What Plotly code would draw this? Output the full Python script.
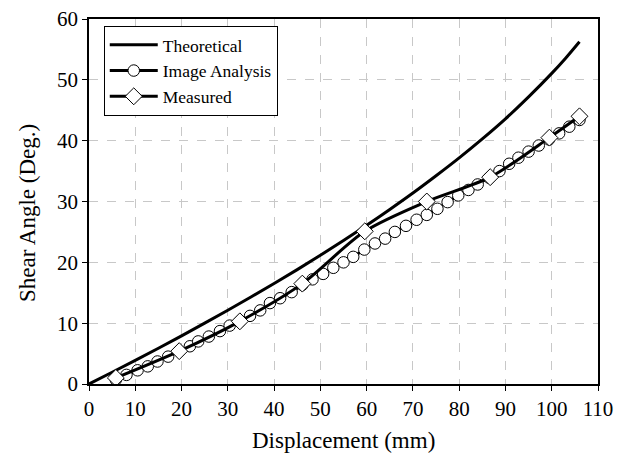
import plotly.graph_objects as go

# Theoretical curve
theo_x = [0, 5, 10, 15, 20, 25, 30, 35, 40, 45, 50, 55, 60, 65, 70, 75, 80, 85, 90, 95, 100, 103, 106]
theo_y = [0, 1.93, 3.89, 5.88, 7.92, 10.0, 12.12, 14.3, 16.52, 18.8, 21.16, 23.6, 26.1, 28.7,
          31.4, 34.24, 37.18, 40.3, 43.6, 47.2, 51.06, 53.56, 56.26]

# Image analysis points
img_x = [5.8, 8.1, 10.5, 12.7, 14.8, 17.1, 19.5, 21.8, 23.6, 25.9, 28.3, 30.4, 32.6, 34.8, 37.0,
         39.1, 41.3, 43.8, 46.1, 48.3, 50.6, 52.8, 55.0, 57.1, 59.5, 61.8, 64.0, 66.1, 68.5, 70.8,
         73.0, 75.3, 77.5, 79.8, 82.0, 84.0, 86.5, 88.7, 90.8, 92.8, 95.0, 97.2, 99.4, 101.6,
         103.8, 106.0]
img_y = [0.7, 1.5, 2.25, 2.9, 3.7, 4.5, 5.4, 6.2, 7.0, 7.8, 8.7, 9.6, 10.3, 11.2, 12.1,
         13.3, 14.1, 15.1, 16.3, 17.2, 18.1, 19.1, 20.0, 20.9, 22.1, 23.1, 23.9, 25.0, 26.0, 27.0,
         27.8, 28.8, 29.9, 31.0, 31.9, 32.8, 33.9, 35.0, 36.2, 37.2, 38.2, 39.2, 40.2, 41.2,
         42.3, 43.4]

# Measured points
meas_x = [5.8, 19.5, 32.6, 46.1, 59.6, 73.0, 86.7, 99.5, 106.0]
meas_y = [1.0, 5.4, 10.3, 16.5, 25.1, 30.0, 34.0, 40.5, 44.0]

x_title = "Displacement (mm)"
y_title = "Shear Angle (Deg.)"

fig = go.Figure()
fig.add_trace(go.Scatter(x=theo_x, y=theo_y, mode="lines", name="Theoretical",
                         line=dict(color="black", width=3, shape="spline")))
fig.add_trace(go.Scatter(x=img_x, y=img_y, mode="lines+markers", name="Image Analysis",
                         line=dict(color="black", width=3),
                         marker=dict(symbol="circle", size=11.5, color="white",
                                     line=dict(color="black", width=1))))
fig.add_trace(go.Scatter(x=meas_x, y=meas_y, mode="lines+markers", name="Measured",
                         line=dict(color="black", width=3, shape="spline", smoothing=0.8),
                         marker=dict(symbol="diamond", size=13, color="white",
                                     line=dict(color="black", width=1))))

font_family = "Liberation Serif, Times New Roman, serif"
axis_common = dict(showline=True, linecolor="black", linewidth=1.5, mirror=True,
                   ticks="outside", ticklen=5, tickcolor="black", automargin=False,
                   ticklabeloverflow="allow",
                   showgrid=True, gridcolor="#c8c8c8", griddash="dash", gridwidth=1,
                   zeroline=False, tickfont=dict(family=font_family, size=21, color="black"))

fig.update_layout(
    width=624, height=466,
    margin=dict(l=81, r=34, t=11, b=90),
    paper_bgcolor="white", plot_bgcolor="white",
    font=dict(family=font_family, color="black"),
    showlegend=True,
    legend=dict(x=0.029, y=0.981, xanchor="left", yanchor="top",
                bgcolor="white", bordercolor="black", borderwidth=1,
                font=dict(family=font_family, size=17.5, color="black"),
                tracegroupgap=0, itemwidth=48),
    xaxis=dict(range=[0, 110], tickvals=list(range(0, 111, 10)), **axis_common),
    yaxis=dict(range=[0, 60], tickvals=list(range(0, 61, 10)), **axis_common),
    annotations=[
        dict(text=x_title, xref="paper", yref="paper", x=0.5, y=-0.155,
             xanchor="center", yanchor="middle", showarrow=False,
             font=dict(family=font_family, size=23, color="black")),
        dict(text=y_title, xref="paper", yref="paper", x=-0.122, y=0.468,
             xanchor="center", yanchor="middle", showarrow=False, textangle=-90,
             font=dict(family=font_family, size=23, color="black")),
    ],
)

fig.write_html("out.html")
